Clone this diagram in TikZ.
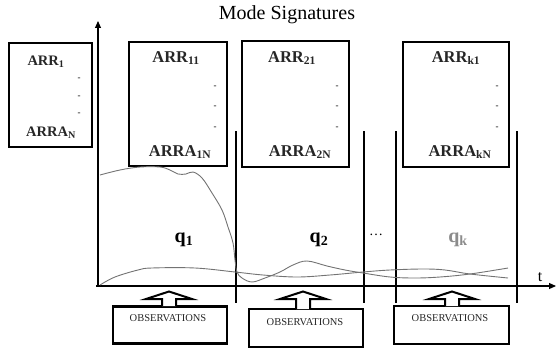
\documentclass[tikz,border=0pt]{standalone}
\usepackage{fontspec}
\setmainfont{Liberation Serif}
\usetikzlibrary{arrows.meta,calc}
\begin{document}
\begin{tikzpicture}[x=1pt,y=-1pt,
  sigbox/.style={draw,line width=1.1pt,inner sep=0pt},
  obsbox/.style={draw,line width=2.2pt,inner sep=0pt,minimum height=37pt},
  lbl/.style={inner sep=0pt,text=black!85,font=\bfseries\fontsize{16.5}{16.5}\selectfont},
  smalllbl/.style={inner sep=0pt,text=black!85,font=\bfseries\fontsize{14.5}{14.5}\selectfont},
  vdots/.style={inner sep=0pt,font=\fontsize{9}{9}\selectfont},
  obstext/.style={inner sep=0pt,text=black!85,font=\fontsize{10.5}{10.5}\selectfont},
  modelbl/.style={inner sep=0pt,font=\bfseries\fontsize{20}{20}\selectfont},
  axis/.style={line width=1.1pt,-{Triangle[length=7pt,width=6pt]}},
  divider/.style={line width=1.1pt},
  trace/.style={draw=black!55,line width=0.9pt},
  hollow/.style={draw,line width=2pt,fill=white,line join=miter}]

\useasboundingbox (0,0) rectangle (556,350);

% title
\node[inner sep=0pt,font=\fontsize{20}{20}\selectfont] (title) at (287,15) {Mode Signatures};

% axes
\coordinate (origin) at (98,286);
\coordinate (ytip) at (98,21);
\coordinate (xstart) at (96,286);
\coordinate (xtip) at (556,286);
\draw[axis] (origin) -- (ytip);
\draw[axis] (xstart) -- (xtip);
\node[inner sep=0pt,font=\fontsize{16}{16}\selectfont] (tlbl) at (540,277) {t};

% signature boxes
\node[sigbox,minimum width=83pt,minimum height=104pt] (sig0) at (50.5,95) {};
\node[sigbox,minimum width=98pt,minimum height=124pt] (sig1) at (178,104) {};
\node[sigbox,minimum width=107pt,minimum height=126pt] (sig2) at (295.5,104) {};
\node[sigbox,minimum width=106pt,minimum height=125pt] (sigk) at (456,104.5) {};

% box contents
\node[smalllbl] (a0) at (46,62) {ARR\textsubscript{1}};
\node[smalllbl] (b0) at (51,133) {ARRA\textsubscript{N}};
\foreach \y [count=\i] in {79,97,114} \node[vdots] (d0\i) at (79,\y) {-};

\node[lbl] (a1) at (176,58) {ARR\textsubscript{11}};
\node[lbl] (b1) at (180,152) {ARRA\textsubscript{1N}};
\foreach \y [count=\i] in {87,107,128} \node[vdots] (d1\i) at (215,\y) {-};

\node[lbl] (a2) at (292,58) {ARR\textsubscript{21}};
\node[lbl] (b2) at (300,152) {ARRA\textsubscript{2N}};
\foreach \y [count=\i] in {87,107,128} \node[vdots] (d2\i) at (337,\y) {-};

\node[lbl] (ak) at (456,58) {ARR\textsubscript{k1}};
\node[lbl] (bk) at (460,152) {ARRA\textsubscript{kN}};
\foreach \y [count=\i] in {87,107,128} \node[vdots] (dk\i) at (497,\y) {-};

% mode dividers
\foreach \x [count=\i] in {236,364,396,517} {
  \coordinate (top\i) at (\x,131);
  \coordinate (bot\i) at (\x,303);
  \draw[divider] (top\i) -- (bot\i);
}

% signal traces
\draw[trace] plot[smooth,tension=0.6] coordinates {
  (100,175) (120,170) (140,167) (160,167) (170,170) (178,174) (186,174)
  (193,172) (202,178) (212,193) (222,210) (228,227) (233,243) (235,260)
  (237,272) (242,278) (252,282) (265,278) (280,272) (293,265) (307,261)
  (327,266) (345,270) (363,273) (390,277) (415,278) (440,277) (470,274)
  (508,268)};
\draw[trace] plot[smooth,tension=0.6] coordinates {
  (100,285) (115,277) (138,270) (152,268) (195,268) (235,272) (263,275)
  (297,277) (330,275) (363,272) (390,270) (423,269) (445,270) (470,274)
  (508,278)};

% mode labels
\node[modelbl] (q1) at (184,240) {q\textsubscript{1}};
\node[modelbl] (q2) at (319,240) {q\textsubscript{2}};
\node[modelbl,text=black!45] (qk) at (458,240) {q\textsubscript{k}};
\node[inner sep=0pt,font=\fontsize{14}{14}\selectfont] (more) at (376,235) {\dots};

% observation boxes
\node[obsbox,minimum width=114pt] (obs1) at (170,325) {};
\node[obsbox,minimum width=114pt,minimum height=38pt] (obs2) at (306,328) {};
\node[obsbox,minimum width=115pt,minimum height=38pt] (obs3) at (451.5,325) {};
\node[obstext] (ot1) at (168,318) {OBSERVATIONS};
\node[obstext] (ot2) at (305,322) {OBSERVATIONS};
\node[obstext] (ot3) at (450,318) {OBSERVATIONS};

% hollow arrows from each observation box up to the time axis
\foreach \cx/\by in {169/306,303/309,452/306} {
  \draw[hollow] (\cx-7,\by) -- (\cx-7,299) -- (\cx-23,299)
     -- (\cx,291.5) -- (\cx+23,299) -- (\cx+7,299) -- (\cx+7,\by);
}
\end{tikzpicture}
\end{document}
